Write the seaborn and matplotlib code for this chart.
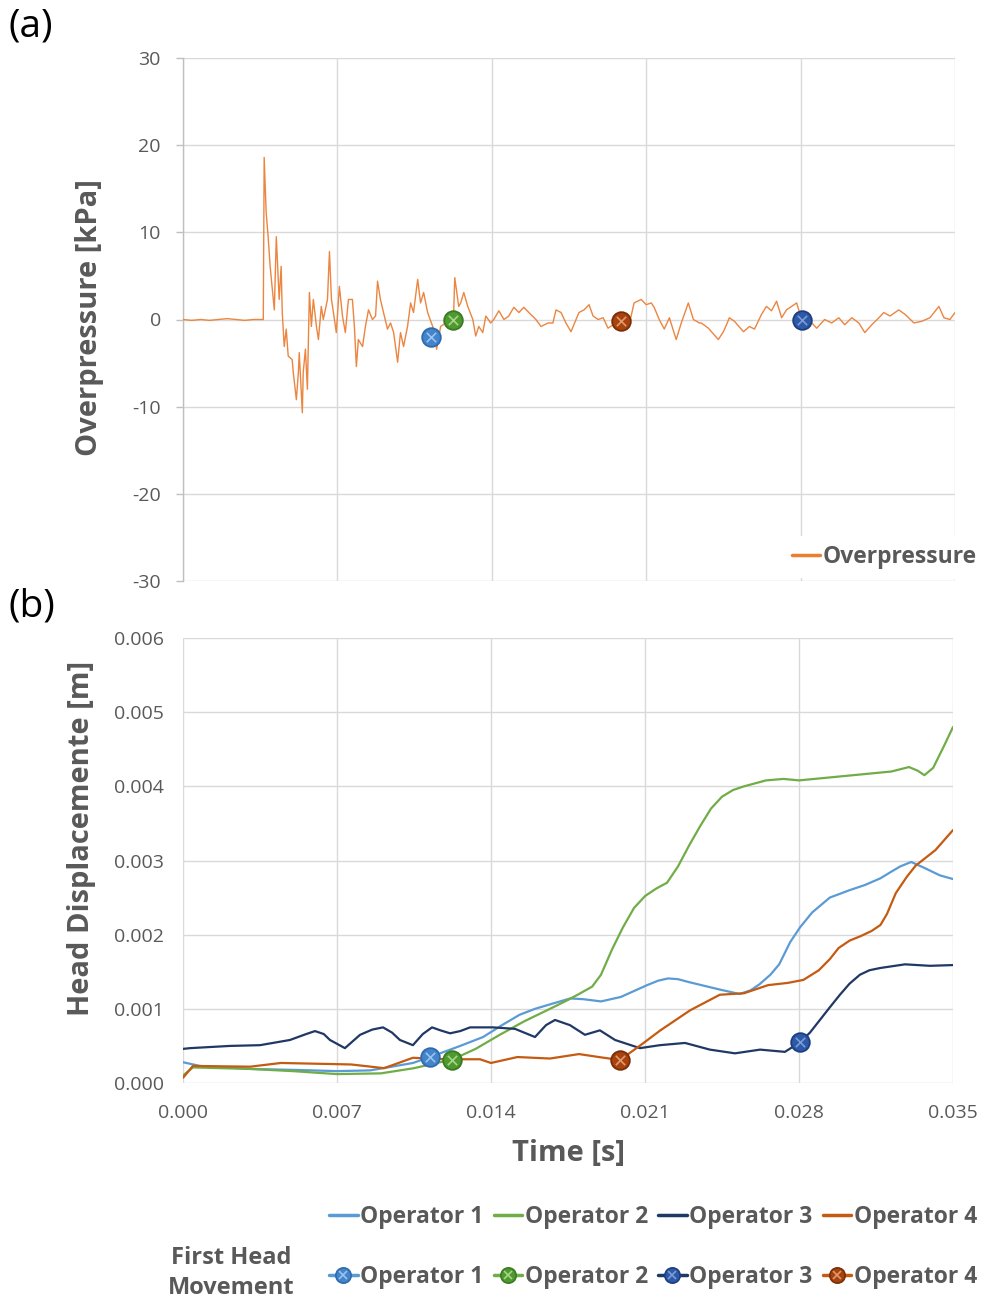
import numpy as np
import pandas as pd
import matplotlib
matplotlib.use("Agg")
import matplotlib.pyplot as plt
import seaborn as sns
from matplotlib.lines import Line2D
from matplotlib.legend_handler import HandlerTuple

# ---------------- data ----------------
# (a) overpressure signal: time [ms], overpressure [kPa]
press_t_ms = [0.0, 0.4, 0.8, 1.2, 1.6, 2.0, 2.4, 2.8, 3.2, 3.64, 3.68, 3.77, 3.86, 3.95, 4.05,
              4.14, 4.23, 4.32, 4.36, 4.45, 4.50, 4.59, 4.68, 4.77, 4.95, 5.00, 5.14, 5.23, 5.27,
              5.41, 5.45, 5.55, 5.64, 5.73, 5.82, 5.91, 6.05, 6.14, 6.27, 6.36, 6.55, 6.64, 6.73,
              6.82, 6.95, 7.09, 7.23, 7.36, 7.50, 7.68, 7.77, 7.86, 7.95, 8.14, 8.27, 8.41, 8.59,
              8.73, 8.82, 8.95, 9.09, 9.27, 9.41, 9.55, 9.73, 9.86, 10.00, 10.18, 10.32, 10.45,
              10.64, 10.77, 10.91, 11.09, 11.32, 11.50, 11.68, 11.91, 12.14, 12.27, 12.32, 12.50,
              12.59, 12.73, 12.91, 13.14, 13.27, 13.41, 13.59, 13.73, 13.95, 14.09, 14.32, 14.55,
              14.77, 15.00, 15.23, 15.45, 15.68, 16.00, 16.23, 16.55, 16.77, 16.91, 17.14, 17.36,
              17.59, 17.82, 17.95, 18.18, 18.41, 18.59, 18.82, 19.05, 19.27, 19.50, 19.86, 20.23,
              20.45, 20.77, 21.00, 21.23, 21.36, 21.59, 21.82, 22.05, 22.36, 22.59, 22.91, 23.14,
              23.41, 23.50, 23.82, 24.27, 24.50, 24.64, 24.77, 25.00, 25.41, 25.68, 25.91, 26.23,
              26.45, 26.68, 26.91, 27.14, 27.36, 27.59, 27.82, 28.05, 28.36, 28.73, 29.09, 29.41,
              29.73, 30.00, 30.32, 30.64, 30.91, 31.23, 31.55, 31.77, 32.05, 32.45, 32.73, 33.14,
              33.50, 33.86, 34.27, 34.50, 34.77, 35.00]
press_kpa = [0.0, -0.1, 0.0, -0.1, 0.0, 0.1, 0.0, -0.1, 0.0, 0.0, 18.6, 12.3, 9.5, 6.1, 3.4,
             1.1, 9.5, 4.6, 2.3, 6.1, 0.8, -3.1, -1.1, -4.2, -4.6, -6.1, -9.2, -6.1, -3.8,
             -10.7, -6.1, -3.4, -8.0, 3.1, -0.8, 2.3, -0.8, -2.3, 1.5, 0.0, 2.3, 7.8, 2.3,
             0.8, -1.5, 3.8, 0.4, -1.5, 2.3, 2.3, -0.8, -5.4, -2.3, -3.1, -0.8, 1.1, 0.0,
             0.4, 4.4, 2.3, 0.8, -1.1, -0.4, -1.5, -4.9, -1.5, -3.1, -0.8, 1.9, 0.8,
             4.6, 1.9, 3.1, 0.8, -0.8, -3.4, -0.8, -0.4, -0.2, 0.6, 4.8, 1.5,
             1.9, 3.1, 1.5, 0.0, -1.9, -0.8, -1.5, 0.4, -0.4, 0.0, 1.0, 0.0,
             0.4, 1.4, 0.8, 1.4, 0.8, 0.0, -0.8, -0.4, -0.4, 1.1, 0.8, -0.4,
             -1.4, 0.0, 0.8, 1.1, 1.7, 0.4, 0.0, 0.2, -1.0, -0.6, -0.2, -0.6,
             1.9, 2.3, 1.7, 1.9, 1.4, 0.0, -1.1, 0.2, -2.3, -0.4, 1.9, 0.0,
             -0.4, -0.4, -1.0, -2.3, -1.4, -0.6, 0.2, -0.2, -1.4, -0.8, -1.1, 0.6,
             1.5, 1.0, 2.1, 0.2, 1.1, 1.5, 1.9, 0.0, 0.0, -1.0, 0.0, -0.4,
             0.2, -0.6, 0.2, -0.4, -1.5, -0.6, 0.2, 0.8, 0.4, 1.1, 0.6, -0.4,
             -0.2, 0.2, 1.5, 0.2, 0.0, 0.8]

# (b) head displacement [m] per operator: time [ms], displacement [m]
op1_t_ms = [0.0, 0.77, 3.05, 5.3, 7.0, 8.5, 9.1, 10.45, 11.23, 12.6, 13.64, 14.5, 15.3, 16.0,
            16.68, 17.6, 18.2, 19.0, 19.9, 20.5, 21.1, 21.6, 22.05, 22.5, 23.0, 23.7, 24.4, 25.3,
            25.8, 26.2, 26.7, 27.1, 27.6, 28.05, 28.6, 29.4, 30.3, 31.0, 31.7, 32.2, 32.6, 33.1,
            33.7, 34.4, 35.0]
op1_disp = [0.00028, 0.00023, 0.00019, 0.000175, 0.00016, 0.00017, 0.0002, 0.00027, 0.00035, 0.0005,
            0.00062, 0.00078, 0.00092, 0.001, 0.00106, 0.00114, 0.00113, 0.0011, 0.00116, 0.00124,
            0.00132, 0.00138, 0.00141, 0.0014, 0.00136, 0.00131, 0.00126, 0.0012, 0.00125, 0.00133,
            0.00146, 0.0016, 0.0019, 0.0021, 0.0023, 0.0025, 0.0026, 0.00267, 0.00276, 0.00285,
            0.00292, 0.00298, 0.0029, 0.0028, 0.00275]
op2_t_ms = [0.0, 0.45, 3.0, 5.0, 7.0, 9.0, 10.5, 12.27, 13.3, 14.4, 15.5, 16.68, 17.5, 18.0, 18.6,
            19.0, 19.5, 20.0, 20.5, 21.0, 21.5, 22.0, 22.5, 23.0, 23.5, 24.0, 24.5, 25.0, 25.5,
            26.0, 26.5, 27.3, 28.0, 29.4, 30.8, 32.2, 33.0, 33.4, 33.7, 34.1, 34.6, 35.0]
op2_disp = [0.0001, 0.00021, 0.00019, 0.00016, 0.00012, 0.00013, 0.0002, 0.00032, 0.00046, 0.00065,
            0.00083, 0.001, 0.00112, 0.0012, 0.0013, 0.00146, 0.0018, 0.0021, 0.00236, 0.00252,
            0.00262, 0.0027, 0.00292, 0.0032, 0.00346, 0.0037, 0.00386, 0.00395, 0.004, 0.00404,
            0.00408, 0.0041, 0.00408, 0.00412, 0.00416, 0.0042, 0.00426, 0.00421, 0.00415, 0.00425,
            0.00455, 0.0048]
op3_t_ms = [0.0, 0.32, 2.14, 3.5, 4.86, 5.6, 6.0, 6.4, 6.68, 7.36, 8.05, 8.6, 9.09, 9.5, 9.86,
            10.45, 10.9, 11.32, 11.7, 12.14, 12.6, 13.05, 14.09, 15.09, 16.0, 16.5, 16.91, 17.59,
            18.27, 18.95, 19.64, 20.77, 21.68, 22.82, 23.95, 25.09, 26.23, 27.36, 28.05, 28.5,
            28.95, 29.4, 29.86, 30.3, 30.77, 31.2, 31.68, 32.82, 33.95, 35.0]
op3_disp = [0.00046, 0.00047, 0.0005, 0.00051, 0.00058, 0.00066, 0.0007, 0.00066, 0.00058, 0.00047,
            0.00065, 0.00072, 0.00075, 0.00068, 0.00058, 0.00051, 0.00066, 0.00075, 0.00071, 0.00067,
            0.0007, 0.00075, 0.00075, 0.00073, 0.00062, 0.00078, 0.00085, 0.00078, 0.00065, 0.00071,
            0.00058, 0.00047, 0.00051, 0.00054, 0.00045, 0.0004, 0.00045, 0.00042, 0.00055, 0.00068,
            0.00085, 0.00102, 0.00119, 0.00134, 0.00146, 0.00152, 0.00155, 0.0016, 0.00158, 0.00159]
op4_t_ms = [0.0, 0.45, 3.05, 4.45, 7.64, 9.14, 10.45, 12.0, 13.5, 14.0, 15.2, 16.68, 18.0, 18.9,
            19.86, 20.8, 21.7, 23.05, 24.4, 25.5, 26.6, 27.5, 28.2, 28.9, 29.4, 29.8, 30.3, 30.8,
            31.3, 31.7, 32.0, 32.4, 32.9, 33.3, 34.2, 35.0]
op4_disp = [0.00007, 0.00023, 0.00022, 0.00027, 0.00025, 0.0002, 0.00034, 0.00032, 0.00032, 0.00027,
            0.00035, 0.00033, 0.00039, 0.00035, 0.00031, 0.00051, 0.00071, 0.00098, 0.00119, 0.00121,
            0.00132, 0.00135, 0.00139, 0.00152, 0.00167, 0.00182, 0.00192, 0.00198, 0.00205, 0.00213,
            0.00228, 0.00256, 0.00278, 0.00293, 0.00314, 0.00341]

# first head movement markers
operators = ["Operator 1", "Operator 2", "Operator 3", "Operator 4"]
fhm_t_ms = [11.23, 12.23, 28.05, 19.86]
fhm_press = [-2.0, 0.0, 0.0, -0.2]
fhm_disp = [0.00035, 0.00031, 0.00055, 0.00031]

x_ticks = [0.000, 0.007, 0.014, 0.021, 0.028, 0.035]
p_ticks = [-30, -20, -10, 0, 10, 20, 30]
d_ticks = [0.000, 0.001, 0.002, 0.003, 0.004, 0.005, 0.006]

# ---------------- style ----------------
line_cols = ["#5B9BD5", "#70AD47", "#203864", "#C55A11"]
mk_fill = ["#4285CD", "#4F9A30", "#2D5AA8", "#A8430E"]
mk_edge = ["#2F6AAE", "#3B7A22", "#1E3E7E", "#7A2E08"]
mk_x = ["#9CC3EA", "#A5D585", "#7E9BD6", "#E09A70"]
grid_c = "#D9D9D9"
txt_c = "#595959"

sns.set_theme(style="white")
plt.rcParams['font.family'] = ['Open Sans', 'DejaVu Sans']

W, H = 985, 1304
fig = plt.figure(figsize=(W / 100, H / 100), dpi=100)
ax1 = fig.add_axes([183 / W, (H - 581) / H, 772 / W, 523 / H])
ax2 = fig.add_axes([183 / W, (H - 1083) / H, 770 / W, 445 / H])

# ---- (a) ----
dfp = pd.DataFrame({"t": np.array(press_t_ms) / 1000.0, "p": press_kpa})
sns.lineplot(data=dfp, x="t", y="p", ax=ax1, color="#EC8540", lw=1.0,
             estimator=None, sort=False, zorder=3)

def draw_markers(ax, xs, ys):
    for i in range(len(xs)):
        sns.scatterplot(x=[xs[i]], y=[ys[i]], ax=ax, s=180, color=mk_fill[i],
                        edgecolor=mk_edge[i], linewidth=1.3, zorder=5)
        sns.scatterplot(x=[xs[i]], y=[ys[i]], ax=ax, s=45, marker="x", color=mk_x[i],
                        linewidth=1.2, zorder=6)

fhm_t = np.array(fhm_t_ms) / 1000.0
draw_markers(ax1, fhm_t, fhm_press)

ax1.set_xlim(0, 0.035)
ax1.set_ylim(-30, 30)
ax1.set_xticks(x_ticks)
ax1.set_xticklabels([])
ax1.set_yticks(p_ticks)
ax1.set_yticklabels([str(v) for v in p_ticks])
ax1.grid(True, color=grid_c, lw=1.0)
for s in ["top", "right", "bottom"]:
    ax1.spines[s].set_visible(False)
ax1.spines["left"].set_color("#BFBFBF")
ax1.spines["left"].set_linewidth(1.0)
ax1.tick_params(axis="y", left=True, length=5, width=1.0, color="#BFBFBF",
                labelsize=14, labelcolor=txt_c, pad=11)
ax1.tick_params(axis="x", bottom=False, length=0)
ax1.set_xlabel("")
ax1.set_ylabel("")

# ---- (b) ----
series = [(op1_t_ms, op1_disp), (op2_t_ms, op2_disp), (op3_t_ms, op3_disp), (op4_t_ms, op4_disp)]
for i, (tt, dd) in enumerate(series):
    dfo = pd.DataFrame({"t": np.array(tt) / 1000.0, "d": dd})
    sns.lineplot(data=dfo, x="t", y="d", ax=ax2, color=line_cols[i], lw=1.6,
                 estimator=None, sort=False, zorder=3)
draw_markers(ax2, fhm_t, fhm_disp)

ax2.set_xlim(0, 0.035)
ax2.set_ylim(0, 0.006)
ax2.set_xticks(x_ticks)
ax2.set_xticklabels([f"{v:.3f}" for v in x_ticks])
ax2.set_yticks(d_ticks)
ax2.set_yticklabels([f"{v:.3f}" for v in d_ticks])
ax2.grid(True, color=grid_c, lw=1.0)
for s in ["top", "right", "bottom", "left"]:
    ax2.spines[s].set_visible(False)
ax2.tick_params(axis="both", length=0, labelsize=14, labelcolor=txt_c)
ax2.tick_params(axis="y", pad=14)
ax2.tick_params(axis="x", pad=15)
ax2.set_xlabel("")
ax2.set_ylabel("")
for a in (ax1, ax2):
    lg = a.get_legend()
    if lg is not None:
        lg.remove()

# ---- labels ----
fig.text(8 / W, 1 - 27 / H, "(a)", fontsize=28, color="black", ha="left", va="center")
fig.text(8 / W, 1 - 606 / H, "(b)", fontsize=28, color="black", ha="left", va="center")
fig.text(90 / W, 1 - 318 / H, "Overpressure [kPa]", rotation=90, fontsize=21,
         fontweight="bold", color=txt_c, ha="center", va="center")
fig.text(82 / W, 1 - 838 / H, "Head Displacemente [m]", rotation=90, fontsize=21,
         fontweight="bold", color=txt_c, ha="center", va="center")
fig.text(568 / W, 1 - 1153 / H, "Time [s]", fontsize=21, fontweight="bold",
         color=txt_c, ha="center", va="center")

# ---- legends ----
leg_kw = dict(handlelength=1.25, handletextpad=0.1, columnspacing=0.45,
              borderaxespad=0, borderpad=0.4, labelcolor=txt_c,
              prop={"weight": "bold", "size": 16.5})
h_over = [Line2D([], [], color="#ED7D31", lw=2.5)]
fig.legend(h_over, ["Overpressure"], loc="center right",
           bbox_to_anchor=(986 / W, 1 - 557 / H), frameon=True,
           facecolor="white", edgecolor="none", framealpha=1.0, **leg_kw)

h_lines = [Line2D([], [], color=c, lw=2.5) for c in line_cols]
fig.legend(h_lines, operators, loc="center right", ncol=4,
           bbox_to_anchor=(986 / W, 1 - 1217 / H), frameon=False, **leg_kw)

h_mk = [(Line2D([], [], color=line_cols[i], lw=2.5, marker="o", ms=11,
                mfc=mk_fill[i], mec=mk_edge[i], mew=1.2),
         Line2D([], [], ls="none", marker="x", ms=6, mec=mk_x[i], mew=1.2))
        for i in range(4)]
fig.legend(h_mk, operators, loc="center right", ncol=4,
           handler_map={tuple: HandlerTuple(ndivide=1, pad=0)},
           bbox_to_anchor=(986 / W, 1 - 1277 / H), frameon=False, **leg_kw)

fig.text(231 / W, 1 - 1273 / H, "First Head\nMovement", fontsize=17, fontweight="bold",
         color=txt_c, ha="center", va="center", linespacing=1.35)

fig.savefig("out.png", dpi=100)
